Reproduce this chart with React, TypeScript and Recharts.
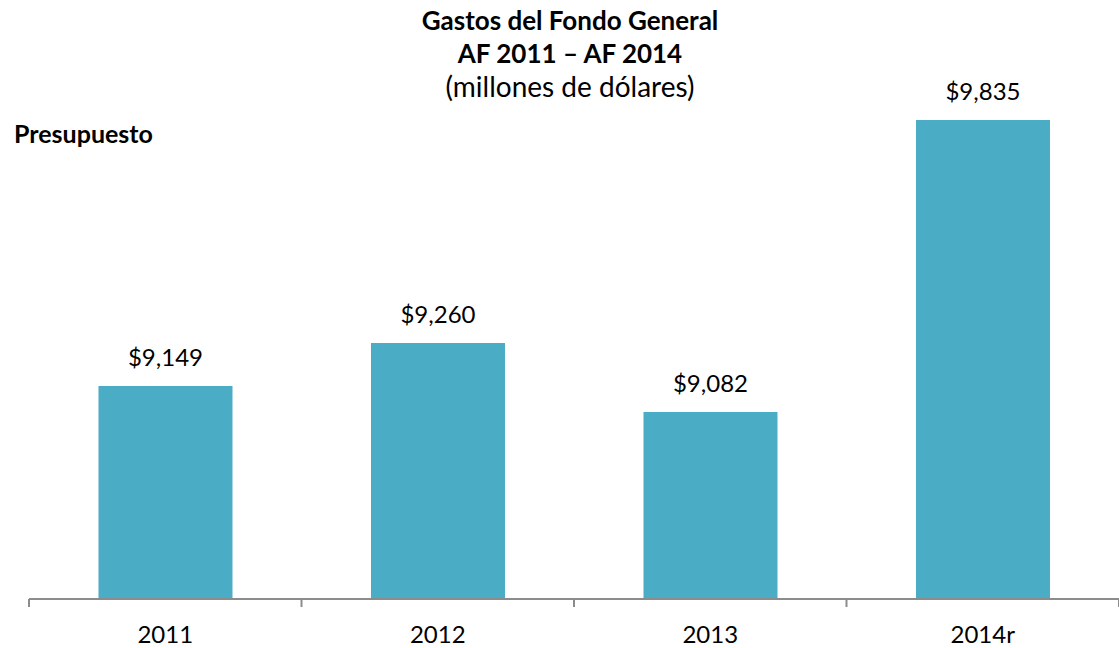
import React from "react";
import { Bar, BarChart, LabelList, XAxis, YAxis } from "recharts";

const years = ["2011", "2012", "2013", "2014r"];
const gastos = [9149, 9260, 9082, 9835];

const data = years.map((year, i) => ({ year, gastos: gastos[i] }));

const FONT = "Lato, 'Open Sans', sans-serif";
const AXIS_GREY = "#8c8c8c";

// tick marks sit on the category boundaries, labels at the centres
function YearTick(props: any) {
  const { x, y, payload, index, visibleTicksCount } = props;
  const off = payload.offset || 0;
  const isLast = index === visibleTicksCount - 1;
  return (
    <g>
      <line x1={x - off} x2={x - off} y1={y - 8} y2={y} stroke={AXIS_GREY} strokeWidth={2} />
      {isLast && (
        <line x1={x + off} x2={x + off} y1={y - 8} y2={y} stroke={AXIS_GREY} strokeWidth={2} />
      )}
      <text x={x} y={y + 36} textAnchor="middle" fontSize={24} fill="#000" fontFamily={FONT}>
        {payload.value}
      </text>
    </g>
  );
}

export default function App() {
  return (
    <div style={{ position: "absolute", left: 0, top: 0, width: 1119, height: 648, background: "#fff" }}>
      <BarChart
        width={1119}
        height={648}
        data={data}
        margin={{ top: 56, right: 0, left: 29, bottom: 0 }}
        barCategoryGap="25.5%"
      >
        <XAxis
          dataKey="year"
          height={49}
          axisLine={{ stroke: AXIS_GREY, strokeWidth: 2 }}
          tickLine={false}
          tickSize={8}
          tickMargin={0}
          interval={0}
          tick={<YearTick />}
        />
        <YAxis hide domain={[8600, 10000]} allowDataOverflow />
        <Bar dataKey="gastos" fill="#4bacc6" isAnimationActive={false}>
          <LabelList
            dataKey="gastos"
            position="top"
            offset={20}
            fontSize={24}
            fill="#000"
            fontFamily={FONT}
            formatter={(v: any) => `$${Number(v).toLocaleString("en-US")}`}
          />
        </Bar>
      </BarChart>
      <svg
        width={1119}
        height={160}
        style={{ position: "absolute", left: 0, top: 0, pointerEvents: "none" }}
        fontFamily={FONT}
        fill="#000"
      >
        <text x={570} y={30} textAnchor="middle" fontSize={26} fontWeight={700}>
          Gastos del Fondo General
        </text>
        <text x={570} y={63} textAnchor="middle" fontSize={26} fontWeight={700}>
          AF 2011 – AF 2014
        </text>
        <text x={570} y={97} textAnchor="middle" fontSize={28}>
          (millones de dólares)
        </text>
        <text x={14} y={143} fontSize={25} fontWeight={700}>
          Presupuesto
        </text>
      </svg>
    </div>
  );
}
